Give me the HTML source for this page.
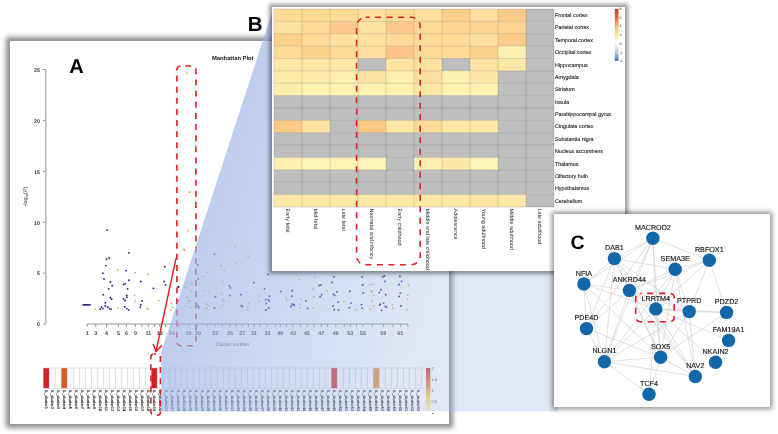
<!DOCTYPE html><html><head><meta charset="utf-8"><style>
html,body{margin:0;padding:0;background:#fff;}
body{width:778px;height:434px;overflow:hidden;position:relative;font-family:"Liberation Sans", sans-serif;}
.p{position:absolute;background:#fff;}
svg{position:absolute;left:0;top:0;overflow:visible;will-change:transform;}
text{font-family:"Liberation Sans", sans-serif;text-rendering:geometricPrecision;}
</style></head><body>
<div class="p" style="left:10px;top:41px;width:439.2px;height:383px;box-shadow:0 0 5px 4px rgba(0,0,0,0.45);"></div>
<svg width="778" height="434" viewBox="0 0 778 434">
<text x="69.3" y="73" font-size="20" font-weight="bold" fill="#000">A</text>
<text x="212" y="60" font-size="5.8" font-weight="bold" fill="#111">Manhattan Plot</text>
<g stroke="#8a8a8a" stroke-width="0.9" fill="none">
<line x1="45.9" y1="69.5" x2="45.9" y2="324"/>
<line x1="43" y1="324" x2="45.9" y2="324"/>
<line x1="43" y1="273.1" x2="45.9" y2="273.1"/>
<line x1="43" y1="222.2" x2="45.9" y2="222.2"/>
<line x1="43" y1="171.3" x2="45.9" y2="171.3"/>
<line x1="43" y1="120.4" x2="45.9" y2="120.4"/>
<line x1="43" y1="69.5" x2="45.9" y2="69.5"/>
</g>
<g font-size="5.3" font-weight="bold" fill="#3a3a3a" text-anchor="end">
<text x="40" y="326.3">0</text>
<text x="40" y="275.4">5</text>
<text x="40" y="224.5">10</text>
<text x="40" y="173.6">15</text>
<text x="40" y="122.7">20</text>
<text x="40" y="71.8">25</text>
</g>
<text transform="translate(26.7,196.7) rotate(-90)" font-size="5.4" fill="#333" text-anchor="middle">-log<tspan font-size="3.2" dy="1">10</tspan><tspan dy="-1">(</tspan><tspan font-style="italic">P</tspan>)</text>
<g stroke="#8a8a8a" stroke-width="0.9" fill="none">
<line x1="87.2" y1="324" x2="407.9" y2="324"/>
<line x1="87.2" y1="324" x2="87.2" y2="327"/>
<line x1="95.8" y1="324" x2="95.8" y2="327"/>
<line x1="106.5" y1="324" x2="106.5" y2="327"/>
<line x1="118.4" y1="324" x2="118.4" y2="327"/>
<line x1="126.4" y1="324" x2="126.4" y2="327"/>
<line x1="135.4" y1="324" x2="135.4" y2="327"/>
<line x1="141.8" y1="324" x2="141.8" y2="327"/>
<line x1="148.3" y1="324" x2="148.3" y2="327"/>
<line x1="154.4" y1="324" x2="154.4" y2="327"/>
<line x1="159.8" y1="324" x2="159.8" y2="327"/>
<line x1="165.6" y1="324" x2="165.6" y2="327"/>
<line x1="172" y1="324" x2="172" y2="327"/>
<line x1="179" y1="324" x2="179" y2="327"/>
<line x1="188.6" y1="324" x2="188.6" y2="327"/>
<line x1="197.6" y1="324" x2="197.6" y2="327"/>
<line x1="207.3" y1="324" x2="207.3" y2="327"/>
<line x1="215.2" y1="324" x2="215.2" y2="327"/>
<line x1="222.4" y1="324" x2="222.4" y2="327"/>
<line x1="229.8" y1="324" x2="229.8" y2="327"/>
<line x1="236.2" y1="324" x2="236.2" y2="327"/>
<line x1="242.2" y1="324" x2="242.2" y2="327"/>
<line x1="248.4" y1="324" x2="248.4" y2="327"/>
<line x1="254.2" y1="324" x2="254.2" y2="327"/>
<line x1="260" y1="324" x2="260" y2="327"/>
<line x1="267.1" y1="324" x2="267.1" y2="327"/>
<line x1="275.4" y1="324" x2="275.4" y2="327"/>
<line x1="280.3" y1="324" x2="280.3" y2="327"/>
<line x1="286.3" y1="324" x2="286.3" y2="327"/>
<line x1="292.8" y1="324" x2="292.8" y2="327"/>
<line x1="300.5" y1="324" x2="300.5" y2="327"/>
<line x1="307.3" y1="324" x2="307.3" y2="327"/>
<line x1="314.2" y1="324" x2="314.2" y2="327"/>
<line x1="321.4" y1="324" x2="321.4" y2="327"/>
<line x1="327.5" y1="324" x2="327.5" y2="327"/>
<line x1="335.8" y1="324" x2="335.8" y2="327"/>
<line x1="344.2" y1="324" x2="344.2" y2="327"/>
<line x1="350.4" y1="324" x2="350.4" y2="327"/>
<line x1="356.5" y1="324" x2="356.5" y2="327"/>
<line x1="362.8" y1="324" x2="362.8" y2="327"/>
<line x1="372.4" y1="324" x2="372.4" y2="327"/>
<line x1="383.4" y1="324" x2="383.4" y2="327"/>
<line x1="393" y1="324" x2="393" y2="327"/>
<line x1="400.7" y1="324" x2="400.7" y2="327"/>
<line x1="407.9" y1="324" x2="407.9" y2="327"/>
</g>
<g font-size="5.4" font-weight="bold" fill="#404040" text-anchor="middle">
<text x="87.2" y="335.1">1</text>
<text x="95.8" y="335.1">3</text>
<text x="106.5" y="335.1">4</text>
<text x="118.4" y="335.1">5</text>
<text x="126.4" y="335.1">6</text>
<text x="135.4" y="335.1">9</text>
<text x="148.3" y="335.1">11</text>
<text x="159.8" y="335.1">13</text>
<text x="172" y="335.1">16</text>
<text x="188.4" y="335.1">19</text>
<text x="198" y="335.1">20</text>
<text x="215.2" y="335.1">22</text>
<text x="229.9" y="335.1">25</text>
<text x="242.2" y="335.1">27</text>
<text x="254" y="335.1">31</text>
<text x="267.5" y="335.1">33</text>
<text x="280.2" y="335.1">40</text>
<text x="292.9" y="335.1">43</text>
<text x="307" y="335.1">45</text>
<text x="321.2" y="335.1">47</text>
<text x="335.8" y="335.1">49</text>
<text x="350.3" y="335.1">53</text>
<text x="362.9" y="335.1">55</text>
<text x="383.2" y="335.1">59</text>
<text x="400.2" y="335.1">61</text>
</g>
<text x="216" y="346.3" font-size="4.9" fill="#4a4a4a">Cluster number</text>
<g fill="#2c2c88">
<rect x="82.5" y="304" width="8.2" height="1.7"/>
<circle cx="107.1" cy="230.1" r="0.95"/>
<circle cx="106.6" cy="259.2" r="0.95"/>
<circle cx="109.1" cy="258" r="0.95"/>
<circle cx="105.8" cy="265.6" r="0.95"/>
<circle cx="102.8" cy="273.2" r="0.95"/>
<circle cx="104" cy="279" r="0.95"/>
<circle cx="110.4" cy="282" r="0.95"/>
<circle cx="112.2" cy="285.8" r="0.95"/>
<circle cx="108.6" cy="288.9" r="0.95"/>
<circle cx="103.3" cy="294.7" r="0.95"/>
<circle cx="110.4" cy="297.7" r="0.95"/>
<circle cx="111.6" cy="299.2" r="0.95"/>
<circle cx="105.3" cy="302.8" r="0.95"/>
<circle cx="101.5" cy="307.3" r="0.95"/>
<circle cx="102.8" cy="308.6" r="0.95"/>
<circle cx="100.3" cy="309.1" r="0.95"/>
<circle cx="105.3" cy="306" r="0.95"/>
<circle cx="107.8" cy="307.3" r="0.95"/>
<circle cx="109.6" cy="308.6" r="0.95"/>
<circle cx="111.1" cy="309.1" r="0.95"/>
<circle cx="128.9" cy="252.9" r="0.95"/>
<circle cx="126.1" cy="270.6" r="0.95"/>
<circle cx="128.9" cy="280.3" r="0.95"/>
<circle cx="125.1" cy="283.8" r="0.95"/>
<circle cx="123.5" cy="284.6" r="0.95"/>
<circle cx="127.6" cy="288.9" r="0.95"/>
<circle cx="126.8" cy="295.4" r="0.95"/>
<circle cx="126.8" cy="297.2" r="0.95"/>
<circle cx="123.5" cy="299" r="0.95"/>
<circle cx="125.1" cy="300.5" r="0.95"/>
<circle cx="124.8" cy="306.8" r="0.95"/>
<circle cx="126.8" cy="308.6" r="0.95"/>
<circle cx="128.6" cy="309.9" r="0.95"/>
<circle cx="140.8" cy="281.5" r="0.95"/>
<circle cx="142" cy="301" r="0.95"/>
<circle cx="140.8" cy="304.8" r="0.95"/>
<circle cx="140.3" cy="307.3" r="0.95"/>
<circle cx="153.4" cy="288.4" r="0.95"/>
<circle cx="164.8" cy="266.8" r="0.95"/>
<circle cx="164" cy="281.5" r="0.95"/>
<circle cx="165.6" cy="285" r="0.95"/>
<circle cx="178.2" cy="287" r="0.95"/>
<circle cx="214.4" cy="254.1" r="0.95"/>
<circle cx="197.8" cy="265" r="0.95"/>
<circle cx="198.2" cy="278.9" r="0.95"/>
<circle cx="178.7" cy="286.8" r="0.95"/>
<circle cx="229.3" cy="285.8" r="0.95"/>
<circle cx="230.5" cy="287.8" r="0.95"/>
<circle cx="215.4" cy="296.8" r="0.95"/>
<circle cx="229.9" cy="295.5" r="0.95"/>
<circle cx="240.9" cy="294.7" r="0.95"/>
<circle cx="253.8" cy="282.7" r="0.95"/>
<circle cx="267.8" cy="274.4" r="0.95"/>
<circle cx="264.5" cy="288.9" r="0.95"/>
<circle cx="269.7" cy="296.3" r="0.95"/>
<circle cx="265.6" cy="299.7" r="0.95"/>
<circle cx="268.3" cy="299.7" r="0.95"/>
<circle cx="269.3" cy="301.3" r="0.95"/>
<circle cx="266.2" cy="303.4" r="0.95"/>
<circle cx="268.7" cy="308" r="0.95"/>
<circle cx="265.8" cy="310" r="0.95"/>
<circle cx="280.7" cy="291.4" r="0.95"/>
<circle cx="292.1" cy="291" r="0.95"/>
<circle cx="292.1" cy="304.4" r="0.95"/>
<circle cx="291.1" cy="306.5" r="0.95"/>
<circle cx="294.2" cy="305.5" r="0.95"/>
<circle cx="241.3" cy="305.5" r="0.95"/>
<circle cx="242.4" cy="306.5" r="0.95"/>
<circle cx="214.4" cy="308" r="0.95"/>
<circle cx="197.8" cy="305.5" r="0.95"/>
<circle cx="198.8" cy="307.5" r="0.95"/>
<circle cx="178.1" cy="300.9" r="0.95"/>
<circle cx="333.8" cy="276.7" r="0.95"/>
<circle cx="332.1" cy="282.5" r="0.95"/>
<circle cx="319.2" cy="285.4" r="0.95"/>
<circle cx="320.9" cy="285" r="0.95"/>
<circle cx="292.5" cy="290.4" r="0.95"/>
<circle cx="292" cy="296.2" r="0.95"/>
<circle cx="292.5" cy="304.3" r="0.95"/>
<circle cx="294.2" cy="304.8" r="0.95"/>
<circle cx="305.9" cy="300.9" r="0.95"/>
<circle cx="307.5" cy="308.4" r="0.95"/>
<circle cx="320.1" cy="296.7" r="0.95"/>
<circle cx="321.7" cy="294.7" r="0.95"/>
<circle cx="333.4" cy="294.2" r="0.95"/>
<circle cx="334.8" cy="295.4" r="0.95"/>
<circle cx="336.8" cy="291.7" r="0.95"/>
<circle cx="338.1" cy="302.1" r="0.95"/>
<circle cx="333.1" cy="305.9" r="0.95"/>
<circle cx="334.3" cy="309.8" r="0.95"/>
<circle cx="338.5" cy="310.1" r="0.95"/>
<circle cx="349.8" cy="291.2" r="0.95"/>
<circle cx="351" cy="303.1" r="0.95"/>
<circle cx="349.3" cy="307.6" r="0.95"/>
<circle cx="362.2" cy="277" r="0.95"/>
<circle cx="362.7" cy="285" r="0.95"/>
<circle cx="363.2" cy="292.9" r="0.95"/>
<circle cx="361.5" cy="304.8" r="0.95"/>
<circle cx="362.2" cy="308.1" r="0.95"/>
<circle cx="382.7" cy="276.7" r="0.95"/>
<circle cx="384.4" cy="275.9" r="0.95"/>
<circle cx="384.9" cy="281.4" r="0.95"/>
<circle cx="381.1" cy="289.7" r="0.95"/>
<circle cx="379.4" cy="292.6" r="0.95"/>
<circle cx="385.7" cy="294.7" r="0.95"/>
<circle cx="380.2" cy="304.3" r="0.95"/>
<circle cx="379.7" cy="305.1" r="0.95"/>
<circle cx="383.6" cy="303.1" r="0.95"/>
<circle cx="385.2" cy="306.4" r="0.95"/>
<circle cx="386.6" cy="307.1" r="0.95"/>
<circle cx="381.6" cy="310.4" r="0.95"/>
<circle cx="399.9" cy="276.4" r="0.95"/>
<circle cx="401.6" cy="281.4" r="0.95"/>
<circle cx="398.9" cy="284.5" r="0.95"/>
<circle cx="400.3" cy="293.1" r="0.95"/>
<circle cx="399.1" cy="296.4" r="0.95"/>
<circle cx="401.1" cy="305.9" r="0.95"/>
<g fill="#dca236"><circle cx="187" cy="73.4" r="0.9"/><circle cx="189.5" cy="192.2" r="0.9"/><circle cx="188" cy="230.6" r="0.9"/><circle cx="184" cy="249.3" r="0.9"/></g>
</g><g fill="#c6b150">
<circle cx="95.2" cy="309.1" r="0.85"/>
<circle cx="117.5" cy="269.9" r="0.85"/>
<circle cx="118" cy="308" r="0.85"/>
<circle cx="135.2" cy="272.7" r="0.85"/>
<circle cx="134.4" cy="295.4" r="0.85"/>
<circle cx="135.2" cy="301" r="0.85"/>
<circle cx="147.8" cy="274.4" r="0.85"/>
<circle cx="147" cy="308.6" r="0.85"/>
<circle cx="148.4" cy="309.4" r="0.85"/>
<circle cx="159" cy="300.5" r="0.85"/>
<circle cx="171.6" cy="303.5" r="0.85"/>
<circle cx="172.4" cy="307.3" r="0.85"/>
<circle cx="170.6" cy="309.9" r="0.85"/>
<circle cx="235.8" cy="263.8" r="0.85"/>
<circle cx="248.5" cy="256.2" r="0.85"/>
<circle cx="220.6" cy="265.8" r="0.85"/>
<circle cx="184.3" cy="249.9" r="0.85"/>
<circle cx="235.1" cy="247" r="0.85"/>
<circle cx="248" cy="256.3" r="0.85"/>
<circle cx="221" cy="265.7" r="0.85"/>
<circle cx="224.3" cy="270.2" r="0.85"/>
<circle cx="207.1" cy="272.3" r="0.85"/>
<circle cx="204" cy="276.5" r="0.85"/>
<circle cx="222.7" cy="281.6" r="0.85"/>
<circle cx="186.4" cy="282.7" r="0.85"/>
<circle cx="191.6" cy="283.7" r="0.85"/>
<circle cx="184.3" cy="286.8" r="0.85"/>
<circle cx="186.4" cy="287.8" r="0.85"/>
<circle cx="191.2" cy="291.4" r="0.85"/>
<circle cx="205" cy="290.5" r="0.85"/>
<circle cx="208.6" cy="292" r="0.85"/>
<circle cx="221.6" cy="293.7" r="0.85"/>
<circle cx="187.4" cy="297.2" r="0.85"/>
<circle cx="188.5" cy="301.3" r="0.85"/>
<circle cx="190.1" cy="300.9" r="0.85"/>
<circle cx="222.7" cy="299.2" r="0.85"/>
<circle cx="223.7" cy="301.3" r="0.85"/>
<circle cx="205" cy="303" r="0.85"/>
<circle cx="207.1" cy="304.4" r="0.85"/>
<circle cx="209.2" cy="305.5" r="0.85"/>
<circle cx="222.7" cy="305" r="0.85"/>
<circle cx="184.3" cy="306.5" r="0.85"/>
<circle cx="189.5" cy="307.5" r="0.85"/>
<circle cx="191.6" cy="307.5" r="0.85"/>
<circle cx="205" cy="308.6" r="0.85"/>
<circle cx="207.1" cy="308.6" r="0.85"/>
<circle cx="220.6" cy="308" r="0.85"/>
<circle cx="248.6" cy="303.4" r="0.85"/>
<circle cx="247.5" cy="307.5" r="0.85"/>
<circle cx="248" cy="310" r="0.85"/>
<circle cx="259.6" cy="296.1" r="0.85"/>
<circle cx="258.9" cy="301.3" r="0.85"/>
<circle cx="285.9" cy="298.2" r="0.85"/>
<circle cx="286.9" cy="300.3" r="0.85"/>
<circle cx="299.2" cy="279.7" r="0.85"/>
<circle cx="314.7" cy="277" r="0.85"/>
<circle cx="313.1" cy="289.2" r="0.85"/>
<circle cx="313.7" cy="296.7" r="0.85"/>
<circle cx="300.9" cy="299.3" r="0.85"/>
<circle cx="300" cy="304.3" r="0.85"/>
<circle cx="300.4" cy="307.6" r="0.85"/>
<circle cx="313.1" cy="308.1" r="0.85"/>
<circle cx="327.1" cy="290.9" r="0.85"/>
<circle cx="343.8" cy="301.4" r="0.85"/>
<circle cx="356" cy="309.8" r="0.85"/>
<circle cx="369.9" cy="285" r="0.85"/>
<circle cx="372.7" cy="284.2" r="0.85"/>
<circle cx="371" cy="290.9" r="0.85"/>
<circle cx="372.2" cy="292.1" r="0.85"/>
<circle cx="373.5" cy="295.4" r="0.85"/>
<circle cx="371.9" cy="300.9" r="0.85"/>
<circle cx="373.5" cy="305.9" r="0.85"/>
<circle cx="370.5" cy="309.3" r="0.85"/>
<circle cx="392.3" cy="304.8" r="0.85"/>
<circle cx="392.8" cy="308.1" r="0.85"/>
<circle cx="408.6" cy="285.4" r="0.85"/>
<circle cx="407.8" cy="295.1" r="0.85"/>
<circle cx="407.5" cy="299.3" r="0.85"/>
<circle cx="407" cy="309.8" r="0.85"/>
</g>
<g stroke="#c8c8c8" stroke-width="0.5">
<rect x="43.2" y="368" width="6" height="20.2" fill="#d42128"/>
<rect x="49.2" y="368" width="6" height="20.2" fill="#fff"/>
<rect x="55.2" y="368" width="6" height="20.2" fill="#fff"/>
<rect x="61.2" y="368" width="6" height="20.2" fill="#dc5a1e"/>
<rect x="67.2" y="368" width="6" height="20.2" fill="#fff"/>
<rect x="73.2" y="368" width="6" height="20.2" fill="#fff"/>
<rect x="79.2" y="368" width="6" height="20.2" fill="#fff"/>
<rect x="85.2" y="368" width="6" height="20.2" fill="#fff"/>
<rect x="91.2" y="368" width="6" height="20.2" fill="#fff"/>
<rect x="97.2" y="368" width="6" height="20.2" fill="#fff"/>
<rect x="103.2" y="368" width="6" height="20.2" fill="#fff"/>
<rect x="109.2" y="368" width="6" height="20.2" fill="#fff"/>
<rect x="115.2" y="368" width="6" height="20.2" fill="#fff"/>
<rect x="121.2" y="368" width="6" height="20.2" fill="#fff"/>
<rect x="127.2" y="368" width="6" height="20.2" fill="#fff"/>
<rect x="133.2" y="368" width="6" height="20.2" fill="#fff"/>
<rect x="139.2" y="368" width="6" height="20.2" fill="#fff"/>
<rect x="145.2" y="368" width="6" height="20.2" fill="#fff"/>
<rect x="151.2" y="368" width="6" height="20.2" fill="#d81e20"/>
<rect x="157.2" y="368" width="6" height="20.2" fill="#fff"/>
<rect x="163.2" y="368" width="6" height="20.2" fill="#fff"/>
<rect x="169.2" y="368" width="6" height="20.2" fill="#fff"/>
<rect x="175.2" y="368" width="6" height="20.2" fill="#fff"/>
<rect x="181.2" y="368" width="6" height="20.2" fill="#fff"/>
<rect x="187.2" y="368" width="6" height="20.2" fill="#fff"/>
<rect x="193.2" y="368" width="6" height="20.2" fill="#fff"/>
<rect x="199.2" y="368" width="6" height="20.2" fill="#fff"/>
<rect x="205.2" y="368" width="6" height="20.2" fill="#fff"/>
<rect x="211.2" y="368" width="6" height="20.2" fill="#fff"/>
<rect x="217.2" y="368" width="6" height="20.2" fill="#fff"/>
<rect x="223.2" y="368" width="6" height="20.2" fill="#fff"/>
<rect x="229.2" y="368" width="6" height="20.2" fill="#fff"/>
<rect x="235.2" y="368" width="6" height="20.2" fill="#fff"/>
<rect x="241.2" y="368" width="6" height="20.2" fill="#fff"/>
<rect x="247.2" y="368" width="6" height="20.2" fill="#fff"/>
<rect x="253.2" y="368" width="6" height="20.2" fill="#fff"/>
<rect x="259.2" y="368" width="6" height="20.2" fill="#fff"/>
<rect x="265.2" y="368" width="6" height="20.2" fill="#fff"/>
<rect x="271.2" y="368" width="6" height="20.2" fill="#fff"/>
<rect x="277.2" y="368" width="6" height="20.2" fill="#fff"/>
<rect x="283.2" y="368" width="6" height="20.2" fill="#fff"/>
<rect x="289.2" y="368" width="6" height="20.2" fill="#fff"/>
<rect x="295.2" y="368" width="6" height="20.2" fill="#fff"/>
<rect x="301.2" y="368" width="6" height="20.2" fill="#fff"/>
<rect x="307.2" y="368" width="6" height="20.2" fill="#fff"/>
<rect x="313.2" y="368" width="6" height="20.2" fill="#fff"/>
<rect x="319.2" y="368" width="6" height="20.2" fill="#fff"/>
<rect x="325.2" y="368" width="6" height="20.2" fill="#fff"/>
<rect x="331.2" y="368" width="6" height="20.2" fill="#e0362d"/>
<rect x="337.2" y="368" width="6" height="20.2" fill="#fff"/>
<rect x="343.2" y="368" width="6" height="20.2" fill="#fff"/>
<rect x="349.2" y="368" width="6" height="20.2" fill="#fff"/>
<rect x="355.2" y="368" width="6" height="20.2" fill="#fff"/>
<rect x="361.2" y="368" width="6" height="20.2" fill="#fff"/>
<rect x="367.2" y="368" width="6" height="20.2" fill="#fff"/>
<rect x="373.2" y="368" width="6" height="20.2" fill="#f4933e"/>
<rect x="379.2" y="368" width="6" height="20.2" fill="#fff"/>
<rect x="385.2" y="368" width="6" height="20.2" fill="#fff"/>
<rect x="391.2" y="368" width="6" height="20.2" fill="#fff"/>
<rect x="397.2" y="368" width="6" height="20.2" fill="#fff"/>
<rect x="403.2" y="368" width="6" height="20.2" fill="#fff"/>
<rect x="409.2" y="368" width="6" height="20.2" fill="#fff"/>
<rect x="415.2" y="368" width="6" height="20.2" fill="#fff"/>
</g>
<g font-size="3.9" fill="#1a1a1a" stroke="#1a1a1a" stroke-width="0.12">
<text transform="translate(44.8,390) rotate(90)">IL_cluster1</text>
<text transform="translate(50.8,390) rotate(90)">IL_cluster2</text>
<text transform="translate(56.8,390) rotate(90)">IL_cluster3</text>
<text transform="translate(62.8,390) rotate(90)">IL_cluster4</text>
<text transform="translate(68.8,390) rotate(90)">IL_cluster5</text>
<text transform="translate(74.8,390) rotate(90)">IL_cluster6</text>
<text transform="translate(80.8,390) rotate(90)">IL_cluster7</text>
<text transform="translate(86.8,390) rotate(90)">IL_cluster8</text>
<text transform="translate(92.8,390) rotate(90)">IL_cluster9</text>
<text transform="translate(98.8,390) rotate(90)">IL_cluster10</text>
<text transform="translate(104.8,390) rotate(90)">IL_cluster11</text>
<text transform="translate(110.8,390) rotate(90)">IL_cluster12</text>
<text transform="translate(116.8,390) rotate(90)">IL_cluster13</text>
<text transform="translate(122.8,390) rotate(90)">IL_cluster14</text>
<text transform="translate(128.8,390) rotate(90)">IL_cluster15</text>
<text transform="translate(134.8,390) rotate(90)">IL_cluster16</text>
<text transform="translate(140.8,390) rotate(90)">IL_cluster17</text>
<text transform="translate(146.8,390) rotate(90)">IL_cluster18</text>
<text transform="translate(152.8,390) rotate(90)">IL_cluster19</text>
<text transform="translate(158.8,390) rotate(90)">IL_cluster20</text>
<text transform="translate(164.8,390) rotate(90)">IL_cluster21</text>
<text transform="translate(170.8,390) rotate(90)">IL_cluster22</text>
<text transform="translate(176.8,390) rotate(90)">IL_cluster23</text>
<text transform="translate(182.8,390) rotate(90)">IL_cluster24</text>
<text transform="translate(188.8,390) rotate(90)">IL_cluster25</text>
<text transform="translate(194.8,390) rotate(90)">IL_cluster26</text>
<text transform="translate(200.8,390) rotate(90)">IL_cluster27</text>
<text transform="translate(206.8,390) rotate(90)">IL_cluster28</text>
<text transform="translate(212.8,390) rotate(90)">IL_cluster29</text>
<text transform="translate(218.8,390) rotate(90)">IL_cluster30</text>
<text transform="translate(224.8,390) rotate(90)">IL_cluster31</text>
<text transform="translate(230.8,390) rotate(90)">IL_cluster32</text>
<text transform="translate(236.8,390) rotate(90)">IL_cluster33</text>
<text transform="translate(242.8,390) rotate(90)">IL_cluster34</text>
<text transform="translate(248.8,390) rotate(90)">IL_cluster35</text>
<text transform="translate(254.8,390) rotate(90)">IL_cluster36</text>
<text transform="translate(260.8,390) rotate(90)">IL_cluster37</text>
<text transform="translate(266.8,390) rotate(90)">IL_cluster38</text>
<text transform="translate(272.8,390) rotate(90)">IL_cluster39</text>
<text transform="translate(278.8,390) rotate(90)">IL_cluster40</text>
<text transform="translate(284.8,390) rotate(90)">IL_cluster41</text>
<text transform="translate(290.8,390) rotate(90)">IL_cluster42</text>
<text transform="translate(296.8,390) rotate(90)">IL_cluster43</text>
<text transform="translate(302.8,390) rotate(90)">IL_cluster44</text>
<text transform="translate(308.8,390) rotate(90)">IL_cluster45</text>
<text transform="translate(314.8,390) rotate(90)">IL_cluster46</text>
<text transform="translate(320.8,390) rotate(90)">IL_cluster47</text>
<text transform="translate(326.8,390) rotate(90)">IL_cluster48</text>
<text transform="translate(332.8,390) rotate(90)">IL_cluster49</text>
<text transform="translate(338.8,390) rotate(90)">IL_cluster50</text>
<text transform="translate(344.8,390) rotate(90)">IL_cluster51</text>
<text transform="translate(350.8,390) rotate(90)">IL_cluster52</text>
<text transform="translate(356.8,390) rotate(90)">IL_cluster53</text>
<text transform="translate(362.8,390) rotate(90)">IL_cluster54</text>
<text transform="translate(368.8,390) rotate(90)">IL_cluster55</text>
<text transform="translate(374.8,390) rotate(90)">IL_cluster56</text>
<text transform="translate(380.8,390) rotate(90)">IL_cluster57</text>
<text transform="translate(386.8,390) rotate(90)">IL_cluster58</text>
<text transform="translate(392.8,390) rotate(90)">IL_cluster59</text>
<text transform="translate(398.8,390) rotate(90)">IL_cluster60</text>
<text transform="translate(404.8,390) rotate(90)">IL_cluster61</text>
<text transform="translate(410.8,390) rotate(90)">IL_cluster62</text>
<text transform="translate(416.8,390) rotate(90)">IL_cluster63</text>
</g>
<defs><linearGradient id="lg2" x1="0" y1="0" x2="0" y2="1"><stop offset="0" stop-color="#da4046"/><stop offset="0.4" stop-color="#f09050"/><stop offset="0.72" stop-color="#ffe26c"/><stop offset="1" stop-color="#fffad0"/></linearGradient></defs>
<rect x="426" y="368" width="4.3" height="43" fill="url(#lg2)"/>
<g font-size="4.1" fill="#555">
<text x="431.6" y="370.1">2</text>
<text x="431.6" y="381.1">1.5</text>
<text x="431.6" y="391.9">1</text>
<text x="431.6" y="402.9">0.5</text>
</g>
<rect x="432" y="413" width="1.5" height="0.8" fill="#333"/>
<g fill="none" stroke="#e01f26" stroke-width="1.6" stroke-dasharray="6 5.1">
<rect x="176.9" y="66" width="19" height="279.8" rx="4" stroke-dashoffset="-4.3" stroke-dasharray="6 5.14"/>
<rect x="150.9" y="354" width="9.5" height="61.3" rx="3" stroke-dashoffset="4"/>
</g>
<g fill="none" stroke="#e8161b" stroke-width="1.4" stroke-linecap="round">
<line x1="175.9" y1="258.9" x2="156" y2="351.4"/>
<polyline points="153.4,344.5 156,351.4 161.6,345.8"/>
</g>
</svg>
<svg width="778" height="434" viewBox="0 0 778 434">
<defs><linearGradient id="wg" gradientUnits="userSpaceOnUse" x1="217.4" y1="180" x2="446.6" y2="254.7"><stop offset="0" stop-color="#a0b6e6" stop-opacity="0.68"/><stop offset="1" stop-color="#a0b6e6" stop-opacity="0.32"/></linearGradient></defs>
<polygon points="273.5,8 161.2,352 161.2,411.5 558,411.5 558,8" fill="url(#wg)"/>
</svg>
<svg width="778" height="434" viewBox="0 0 778 434"><text x="247.8" y="31" font-size="20.5" font-weight="bold" fill="#000">B</text></svg>
<div class="p" style="left:272px;top:7px;width:352.8px;height:264.4px;box-shadow:0 0 4px 3px rgba(0,0,0,0.40);"></div>
<svg width="778" height="434" viewBox="0 0 778 434">
<rect x="274" y="9" width="28" height="12.38" fill="#fddc96"/>
<rect x="302" y="9" width="28" height="12.38" fill="#fddc96"/>
<rect x="330" y="9" width="28" height="12.38" fill="#fddc96"/>
<rect x="358" y="9" width="28" height="12.38" fill="#fde0a0"/>
<rect x="386" y="9" width="28" height="12.38" fill="#fddc96"/>
<rect x="414" y="9" width="28" height="12.38" fill="#fde0a0"/>
<rect x="442" y="9" width="28" height="12.38" fill="#fdd08c"/>
<rect x="470" y="9" width="28" height="12.38" fill="#fde0a0"/>
<rect x="498" y="9" width="28" height="12.38" fill="#fdcc88"/>
<rect x="526" y="9" width="28" height="12.38" fill="#bebebe"/>
<rect x="274" y="21.38" width="28" height="12.38" fill="#fee3a0"/>
<rect x="302" y="21.38" width="28" height="12.38" fill="#fddb96"/>
<rect x="330" y="21.38" width="28" height="12.38" fill="#fdc888"/>
<rect x="358" y="21.38" width="28" height="12.38" fill="#fee3a0"/>
<rect x="386" y="21.38" width="28" height="12.38" fill="#fdc888"/>
<rect x="414" y="21.38" width="28" height="12.38" fill="#fddb96"/>
<rect x="442" y="21.38" width="28" height="12.38" fill="#fdd590"/>
<rect x="470" y="21.38" width="28" height="12.38" fill="#fdd590"/>
<rect x="498" y="21.38" width="28" height="12.38" fill="#fdd590"/>
<rect x="526" y="21.38" width="28" height="12.38" fill="#bebebe"/>
<rect x="274" y="33.75" width="28" height="12.38" fill="#fdd08c"/>
<rect x="302" y="33.75" width="28" height="12.38" fill="#fddb96"/>
<rect x="330" y="33.75" width="28" height="12.38" fill="#fee0a0"/>
<rect x="358" y="33.75" width="28" height="12.38" fill="#fee0a0"/>
<rect x="386" y="33.75" width="28" height="12.38" fill="#fddb96"/>
<rect x="414" y="33.75" width="28" height="12.38" fill="#fddb96"/>
<rect x="442" y="33.75" width="28" height="12.38" fill="#fddb96"/>
<rect x="470" y="33.75" width="28" height="12.38" fill="#fee3a0"/>
<rect x="498" y="33.75" width="28" height="12.38" fill="#fdcc88"/>
<rect x="526" y="33.75" width="28" height="12.38" fill="#bebebe"/>
<rect x="274" y="46.12" width="28" height="12.38" fill="#fddb96"/>
<rect x="302" y="46.12" width="28" height="12.38" fill="#fdd08c"/>
<rect x="330" y="46.12" width="28" height="12.38" fill="#fddb96"/>
<rect x="358" y="46.12" width="28" height="12.38" fill="#fee0a0"/>
<rect x="386" y="46.12" width="28" height="12.38" fill="#fdc585"/>
<rect x="414" y="46.12" width="28" height="12.38" fill="#fddb96"/>
<rect x="442" y="46.12" width="28" height="12.38" fill="#fddb96"/>
<rect x="470" y="46.12" width="28" height="12.38" fill="#fdd08c"/>
<rect x="498" y="46.12" width="28" height="12.38" fill="#fef0b0"/>
<rect x="526" y="46.12" width="28" height="12.38" fill="#bebebe"/>
<rect x="274" y="58.5" width="28" height="12.38" fill="#fee8a8"/>
<rect x="302" y="58.5" width="28" height="12.38" fill="#fee8a8"/>
<rect x="330" y="58.5" width="28" height="12.38" fill="#fee8a8"/>
<rect x="358" y="58.5" width="28" height="12.38" fill="#bebebe"/>
<rect x="386" y="58.5" width="28" height="12.38" fill="#fee4a2"/>
<rect x="414" y="58.5" width="28" height="12.38" fill="#fee0a0"/>
<rect x="442" y="58.5" width="28" height="12.38" fill="#bebebe"/>
<rect x="470" y="58.5" width="28" height="12.38" fill="#fee4a2"/>
<rect x="498" y="58.5" width="28" height="12.38" fill="#fee8a8"/>
<rect x="526" y="58.5" width="28" height="12.38" fill="#bebebe"/>
<rect x="274" y="70.88" width="28" height="12.38" fill="#feeaa9"/>
<rect x="302" y="70.88" width="28" height="12.38" fill="#feeaa9"/>
<rect x="330" y="70.88" width="28" height="12.38" fill="#feefb0"/>
<rect x="358" y="70.88" width="28" height="12.38" fill="#fee4a2"/>
<rect x="386" y="70.88" width="28" height="12.38" fill="#feefb0"/>
<rect x="414" y="70.88" width="28" height="12.38" fill="#fee0a0"/>
<rect x="442" y="70.88" width="28" height="12.38" fill="#fef0b0"/>
<rect x="470" y="70.88" width="28" height="12.38" fill="#fee8a8"/>
<rect x="498" y="70.88" width="28" height="12.38" fill="#bebebe"/>
<rect x="526" y="70.88" width="28" height="12.38" fill="#bebebe"/>
<rect x="274" y="83.25" width="28" height="12.38" fill="#feeeac"/>
<rect x="302" y="83.25" width="28" height="12.38" fill="#fef2b3"/>
<rect x="330" y="83.25" width="28" height="12.38" fill="#fef2b3"/>
<rect x="358" y="83.25" width="28" height="12.38" fill="#fef2b3"/>
<rect x="386" y="83.25" width="28" height="12.38" fill="#fef0b0"/>
<rect x="414" y="83.25" width="28" height="12.38" fill="#fee8a8"/>
<rect x="442" y="83.25" width="28" height="12.38" fill="#fef2b3"/>
<rect x="470" y="83.25" width="28" height="12.38" fill="#fef2b3"/>
<rect x="498" y="83.25" width="28" height="12.38" fill="#bebebe"/>
<rect x="526" y="83.25" width="28" height="12.38" fill="#bebebe"/>
<rect x="274" y="95.62" width="28" height="12.38" fill="#bebebe"/>
<rect x="302" y="95.62" width="28" height="12.38" fill="#bebebe"/>
<rect x="330" y="95.62" width="28" height="12.38" fill="#bebebe"/>
<rect x="358" y="95.62" width="28" height="12.38" fill="#bebebe"/>
<rect x="386" y="95.62" width="28" height="12.38" fill="#bebebe"/>
<rect x="414" y="95.62" width="28" height="12.38" fill="#bebebe"/>
<rect x="442" y="95.62" width="28" height="12.38" fill="#bebebe"/>
<rect x="470" y="95.62" width="28" height="12.38" fill="#bebebe"/>
<rect x="498" y="95.62" width="28" height="12.38" fill="#bebebe"/>
<rect x="526" y="95.62" width="28" height="12.38" fill="#bebebe"/>
<rect x="274" y="108" width="28" height="12.38" fill="#bebebe"/>
<rect x="302" y="108" width="28" height="12.38" fill="#bebebe"/>
<rect x="330" y="108" width="28" height="12.38" fill="#bebebe"/>
<rect x="358" y="108" width="28" height="12.38" fill="#bebebe"/>
<rect x="386" y="108" width="28" height="12.38" fill="#bebebe"/>
<rect x="414" y="108" width="28" height="12.38" fill="#bebebe"/>
<rect x="442" y="108" width="28" height="12.38" fill="#bebebe"/>
<rect x="470" y="108" width="28" height="12.38" fill="#bebebe"/>
<rect x="498" y="108" width="28" height="12.38" fill="#bebebe"/>
<rect x="526" y="108" width="28" height="12.38" fill="#bebebe"/>
<rect x="274" y="120.38" width="28" height="12.38" fill="#fdc987"/>
<rect x="302" y="120.38" width="28" height="12.38" fill="#fee0a0"/>
<rect x="330" y="120.38" width="28" height="12.38" fill="#bebebe"/>
<rect x="358" y="120.38" width="28" height="12.38" fill="#fdc987"/>
<rect x="386" y="120.38" width="28" height="12.38" fill="#fee8a8"/>
<rect x="414" y="120.38" width="28" height="12.38" fill="#fedb95"/>
<rect x="442" y="120.38" width="28" height="12.38" fill="#fee8a8"/>
<rect x="470" y="120.38" width="28" height="12.38" fill="#fee8a8"/>
<rect x="498" y="120.38" width="28" height="12.38" fill="#bebebe"/>
<rect x="526" y="120.38" width="28" height="12.38" fill="#bebebe"/>
<rect x="274" y="132.75" width="28" height="12.38" fill="#bebebe"/>
<rect x="302" y="132.75" width="28" height="12.38" fill="#bebebe"/>
<rect x="330" y="132.75" width="28" height="12.38" fill="#bebebe"/>
<rect x="358" y="132.75" width="28" height="12.38" fill="#bebebe"/>
<rect x="386" y="132.75" width="28" height="12.38" fill="#bebebe"/>
<rect x="414" y="132.75" width="28" height="12.38" fill="#bebebe"/>
<rect x="442" y="132.75" width="28" height="12.38" fill="#bebebe"/>
<rect x="470" y="132.75" width="28" height="12.38" fill="#bebebe"/>
<rect x="498" y="132.75" width="28" height="12.38" fill="#bebebe"/>
<rect x="526" y="132.75" width="28" height="12.38" fill="#bebebe"/>
<rect x="274" y="145.12" width="28" height="12.38" fill="#bebebe"/>
<rect x="302" y="145.12" width="28" height="12.38" fill="#bebebe"/>
<rect x="330" y="145.12" width="28" height="12.38" fill="#bebebe"/>
<rect x="358" y="145.12" width="28" height="12.38" fill="#bebebe"/>
<rect x="386" y="145.12" width="28" height="12.38" fill="#bebebe"/>
<rect x="414" y="145.12" width="28" height="12.38" fill="#bebebe"/>
<rect x="442" y="145.12" width="28" height="12.38" fill="#bebebe"/>
<rect x="470" y="145.12" width="28" height="12.38" fill="#bebebe"/>
<rect x="498" y="145.12" width="28" height="12.38" fill="#bebebe"/>
<rect x="526" y="145.12" width="28" height="12.38" fill="#bebebe"/>
<rect x="274" y="157.5" width="28" height="12.38" fill="#fef0b0"/>
<rect x="302" y="157.5" width="28" height="12.38" fill="#fef4b8"/>
<rect x="330" y="157.5" width="28" height="12.38" fill="#fef2b3"/>
<rect x="358" y="157.5" width="28" height="12.38" fill="#fef4b8"/>
<rect x="386" y="157.5" width="28" height="12.38" fill="#bebebe"/>
<rect x="414" y="157.5" width="28" height="12.38" fill="#fef0b0"/>
<rect x="442" y="157.5" width="28" height="12.38" fill="#fee8a8"/>
<rect x="470" y="157.5" width="28" height="12.38" fill="#fef4b8"/>
<rect x="498" y="157.5" width="28" height="12.38" fill="#bebebe"/>
<rect x="526" y="157.5" width="28" height="12.38" fill="#bebebe"/>
<rect x="274" y="169.88" width="28" height="12.38" fill="#bebebe"/>
<rect x="302" y="169.88" width="28" height="12.38" fill="#bebebe"/>
<rect x="330" y="169.88" width="28" height="12.38" fill="#bebebe"/>
<rect x="358" y="169.88" width="28" height="12.38" fill="#bebebe"/>
<rect x="386" y="169.88" width="28" height="12.38" fill="#bebebe"/>
<rect x="414" y="169.88" width="28" height="12.38" fill="#bebebe"/>
<rect x="442" y="169.88" width="28" height="12.38" fill="#bebebe"/>
<rect x="470" y="169.88" width="28" height="12.38" fill="#bebebe"/>
<rect x="498" y="169.88" width="28" height="12.38" fill="#bebebe"/>
<rect x="526" y="169.88" width="28" height="12.38" fill="#bebebe"/>
<rect x="274" y="182.25" width="28" height="12.38" fill="#bebebe"/>
<rect x="302" y="182.25" width="28" height="12.38" fill="#bebebe"/>
<rect x="330" y="182.25" width="28" height="12.38" fill="#bebebe"/>
<rect x="358" y="182.25" width="28" height="12.38" fill="#bebebe"/>
<rect x="386" y="182.25" width="28" height="12.38" fill="#bebebe"/>
<rect x="414" y="182.25" width="28" height="12.38" fill="#bebebe"/>
<rect x="442" y="182.25" width="28" height="12.38" fill="#bebebe"/>
<rect x="470" y="182.25" width="28" height="12.38" fill="#bebebe"/>
<rect x="498" y="182.25" width="28" height="12.38" fill="#bebebe"/>
<rect x="526" y="182.25" width="28" height="12.38" fill="#bebebe"/>
<rect x="274" y="194.62" width="28" height="12.38" fill="#fee8a8"/>
<rect x="302" y="194.62" width="28" height="12.38" fill="#fee8a8"/>
<rect x="330" y="194.62" width="28" height="12.38" fill="#fee8a8"/>
<rect x="358" y="194.62" width="28" height="12.38" fill="#fee8a8"/>
<rect x="386" y="194.62" width="28" height="12.38" fill="#fee8a8"/>
<rect x="414" y="194.62" width="28" height="12.38" fill="#fee8a8"/>
<rect x="442" y="194.62" width="28" height="12.38" fill="#fee8a8"/>
<rect x="470" y="194.62" width="28" height="12.38" fill="#fee4a2"/>
<rect x="498" y="194.62" width="28" height="12.38" fill="#fee8a8"/>
<rect x="526" y="194.62" width="28" height="12.38" fill="#bebebe"/>
<g stroke="#000" stroke-opacity="0.18" stroke-width="0.7">
<line x1="274" y1="9" x2="274" y2="207"/>
<line x1="302" y1="9" x2="302" y2="207"/>
<line x1="330" y1="9" x2="330" y2="207"/>
<line x1="358" y1="9" x2="358" y2="207"/>
<line x1="386" y1="9" x2="386" y2="207"/>
<line x1="414" y1="9" x2="414" y2="207"/>
<line x1="442" y1="9" x2="442" y2="207"/>
<line x1="470" y1="9" x2="470" y2="207"/>
<line x1="498" y1="9" x2="498" y2="207"/>
<line x1="526" y1="9" x2="526" y2="207"/>
<line x1="554" y1="9" x2="554" y2="207"/>
<line x1="274" y1="9" x2="554" y2="9"/>
<line x1="274" y1="21.38" x2="554" y2="21.38"/>
<line x1="274" y1="33.75" x2="554" y2="33.75"/>
<line x1="274" y1="46.12" x2="554" y2="46.12"/>
<line x1="274" y1="58.5" x2="554" y2="58.5"/>
<line x1="274" y1="70.88" x2="554" y2="70.88"/>
<line x1="274" y1="83.25" x2="554" y2="83.25"/>
<line x1="274" y1="95.62" x2="554" y2="95.62"/>
<line x1="274" y1="108" x2="554" y2="108"/>
<line x1="274" y1="120.38" x2="554" y2="120.38"/>
<line x1="274" y1="132.75" x2="554" y2="132.75"/>
<line x1="274" y1="145.12" x2="554" y2="145.12"/>
<line x1="274" y1="157.5" x2="554" y2="157.5"/>
<line x1="274" y1="169.88" x2="554" y2="169.88"/>
<line x1="274" y1="182.25" x2="554" y2="182.25"/>
<line x1="274" y1="194.62" x2="554" y2="194.62"/>
<line x1="274" y1="207" x2="554" y2="207"/>
</g>
<g font-size="5.35" fill="#111" stroke="#111" stroke-width="0.1">
<text x="554.9" y="17.1">Frontal cortex</text>
<text x="554.9" y="29.48">Parietal cortex</text>
<text x="554.9" y="41.85">Temporal cortex</text>
<text x="554.9" y="54.23">Occipital cortex</text>
<text x="554.9" y="66.6">Hippocampus</text>
<text x="554.9" y="78.97">Amygdala</text>
<text x="554.9" y="91.35">Striatum</text>
<text x="554.9" y="103.72">Insula</text>
<text x="554.9" y="116.1">Parahippocampal gyrus</text>
<text x="554.9" y="128.47">Cingulate cortex</text>
<text x="554.9" y="140.85">Substantia nigra</text>
<text x="554.9" y="153.22">Nucleus accumbens</text>
<text x="554.9" y="165.6">Thalamus</text>
<text x="554.9" y="177.97">Olfactory bulb</text>
<text x="554.9" y="190.35">Hypothalamus</text>
<text x="554.9" y="202.72">Cerebellum</text>
</g>
<g font-size="5.4" fill="#2a2a2a">
<text transform="translate(286.1,208.6) rotate(90)">Early fetal</text>
<text transform="translate(314.1,208.6) rotate(90)">Mid-fetal</text>
<text transform="translate(342.1,208.6) rotate(90)">Late fetal</text>
<text transform="translate(370.1,208.6) rotate(90)">Neonatal and infancy</text>
<text transform="translate(398.1,208.6) rotate(90)">Early childhood</text>
<text transform="translate(426.1,208.6) rotate(90)">Middle and late childhood</text>
<text transform="translate(454.1,208.6) rotate(90)">Adolescence</text>
<text transform="translate(482.1,208.6) rotate(90)">Young adulthood</text>
<text transform="translate(510.1,208.6) rotate(90)">Middle adulthood</text>
<text transform="translate(538.1,208.6) rotate(90)">Late adulthood</text>
</g>
<defs><linearGradient id="lg1" x1="0" y1="0" x2="0" y2="1"><stop offset="0" stop-color="#c8302a"/><stop offset="0.17" stop-color="#e46c44"/><stop offset="0.33" stop-color="#f8b476"/><stop offset="0.5" stop-color="#fde8a0"/><stop offset="0.62" stop-color="#fdfbea"/><stop offset="0.7" stop-color="#eef4f8"/><stop offset="0.85" stop-color="#a9c8e2"/><stop offset="1" stop-color="#4272b0"/></linearGradient></defs>
<rect x="614.8" y="8.9" width="3.7" height="52.1" fill="url(#lg1)"/>
<g font-size="3.6" fill="#222">
<text x="619.4" y="10.1">8</text>
<text x="619.4" y="18.78">6</text>
<text x="619.4" y="27.47">4</text>
<text x="619.4" y="36.15">2</text>
<text x="619.4" y="44.83">0</text>
<text x="619.4" y="53.52">-2</text>
<text x="619.4" y="62.2">-4</text>
</g>
<g fill="none" stroke="#e01f26" stroke-width="1.6" stroke-dasharray="6 5.5">
<rect x="356.6" y="17.3" width="63.6" height="247.5" rx="9" stroke-dashoffset="2"/>
</g>
</svg>
<div class="p" style="left:554.3px;top:213.8px;width:216.1px;height:193px;box-shadow:0 0 5px 2px rgba(0,0,0,0.45);"></div>
<svg width="778" height="434" viewBox="0 0 778 434">
<text x="570.6" y="249.2" font-size="19.5" font-weight="bold" fill="#000">C</text>
<g stroke="#cbcbcb" stroke-width="0.6">
<line x1="652.9" y1="238.3" x2="614.4" y2="258.6"/>
<line x1="652.9" y1="238.3" x2="709.3" y2="260.3"/>
<line x1="652.9" y1="238.3" x2="629.4" y2="290.4"/>
<line x1="652.9" y1="238.3" x2="655.8" y2="308.9"/>
<line x1="652.9" y1="238.3" x2="586.5" y2="328.6"/>
<line x1="652.9" y1="238.3" x2="604.4" y2="361.7"/>
<line x1="652.9" y1="238.3" x2="660.6" y2="357.2"/>
<line x1="652.9" y1="238.3" x2="583.9" y2="284"/>
<line x1="614.4" y1="258.6" x2="583.9" y2="284"/>
<line x1="614.4" y1="258.6" x2="629.4" y2="290.4"/>
<line x1="614.4" y1="258.6" x2="675.2" y2="269.2"/>
<line x1="614.4" y1="258.6" x2="655.8" y2="308.9"/>
<line x1="614.4" y1="258.6" x2="660.6" y2="357.2"/>
<line x1="614.4" y1="258.6" x2="604.4" y2="361.7"/>
<line x1="614.4" y1="258.6" x2="586.5" y2="328.6"/>
<line x1="614.4" y1="258.6" x2="689.2" y2="311.6"/>
<line x1="614.4" y1="258.6" x2="695.3" y2="376.5"/>
<line x1="709.3" y1="260.3" x2="675.2" y2="269.2"/>
<line x1="709.3" y1="260.3" x2="689.2" y2="311.6"/>
<line x1="709.3" y1="260.3" x2="655.8" y2="308.9"/>
<line x1="709.3" y1="260.3" x2="726.6" y2="312.4"/>
<line x1="709.3" y1="260.3" x2="629.4" y2="290.4"/>
<line x1="675.2" y1="269.2" x2="629.4" y2="290.4"/>
<line x1="675.2" y1="269.2" x2="655.8" y2="308.9"/>
<line x1="675.2" y1="269.2" x2="689.2" y2="311.6"/>
<line x1="675.2" y1="269.2" x2="660.6" y2="357.2"/>
<line x1="675.2" y1="269.2" x2="695.3" y2="376.5"/>
<line x1="675.2" y1="269.2" x2="604.4" y2="361.7"/>
<line x1="583.9" y1="284" x2="629.4" y2="290.4"/>
<line x1="583.9" y1="284" x2="586.5" y2="328.6"/>
<line x1="583.9" y1="284" x2="604.4" y2="361.7"/>
<line x1="583.9" y1="284" x2="655.8" y2="308.9"/>
<line x1="583.9" y1="284" x2="660.6" y2="357.2"/>
<line x1="629.4" y1="290.4" x2="655.8" y2="308.9"/>
<line x1="629.4" y1="290.4" x2="689.2" y2="311.6"/>
<line x1="629.4" y1="290.4" x2="660.6" y2="357.2"/>
<line x1="629.4" y1="290.4" x2="604.4" y2="361.7"/>
<line x1="629.4" y1="290.4" x2="586.5" y2="328.6"/>
<line x1="629.4" y1="290.4" x2="695.3" y2="376.5"/>
<line x1="655.8" y1="308.9" x2="689.2" y2="311.6"/>
<line x1="655.8" y1="308.9" x2="726.6" y2="312.4"/>
<line x1="655.8" y1="308.9" x2="660.6" y2="357.2"/>
<line x1="655.8" y1="308.9" x2="695.3" y2="376.5"/>
<line x1="655.8" y1="308.9" x2="604.4" y2="361.7"/>
<line x1="655.8" y1="308.9" x2="649" y2="394.2"/>
<line x1="655.8" y1="308.9" x2="728.6" y2="340.4"/>
<line x1="655.8" y1="308.9" x2="715.6" y2="362.3"/>
<line x1="689.2" y1="311.6" x2="726.6" y2="312.4"/>
<line x1="689.2" y1="311.6" x2="695.3" y2="376.5"/>
<line x1="689.2" y1="311.6" x2="660.6" y2="357.2"/>
<line x1="689.2" y1="311.6" x2="604.4" y2="361.7"/>
<line x1="586.5" y1="328.6" x2="660.6" y2="357.2"/>
<line x1="586.5" y1="328.6" x2="604.4" y2="361.7"/>
<line x1="604.4" y1="361.7" x2="660.6" y2="357.2"/>
<line x1="604.4" y1="361.7" x2="695.3" y2="376.5"/>
<line x1="604.4" y1="361.7" x2="649" y2="394.2"/>
<line x1="660.6" y1="357.2" x2="649" y2="394.2"/>
<line x1="660.6" y1="357.2" x2="695.3" y2="376.5"/>
<line x1="660.6" y1="357.2" x2="726.6" y2="312.4"/>
</g>
<g fill="#1167a8">
<circle cx="652.9" cy="238.3" r="6.7"/>
<circle cx="614.4" cy="258.6" r="6.7"/>
<circle cx="709.3" cy="260.3" r="6.7"/>
<circle cx="675.2" cy="269.2" r="6.7"/>
<circle cx="583.9" cy="284" r="6.7"/>
<circle cx="629.4" cy="290.4" r="6.7"/>
<circle cx="655.8" cy="308.9" r="6.7"/>
<circle cx="689.2" cy="311.6" r="6.7"/>
<circle cx="726.6" cy="312.4" r="6.7"/>
<circle cx="586.5" cy="328.6" r="6.7"/>
<circle cx="728.6" cy="340.4" r="6.7"/>
<circle cx="604.4" cy="361.7" r="6.7"/>
<circle cx="660.6" cy="357.2" r="6.7"/>
<circle cx="715.6" cy="362.3" r="6.7"/>
<circle cx="695.3" cy="376.5" r="6.7"/>
<circle cx="649" cy="394.2" r="6.7"/>
</g>
<g font-size="7.2" fill="#1a1a1a" stroke="#1a1a1a" stroke-width="0.15" text-anchor="middle">
<text x="652.9" y="229.9">MACROD2</text>
<text x="614.4" y="250.2">DAB1</text>
<text x="709.3" y="251.9">RBFOX1</text>
<text x="675.2" y="260.8">SEMA3E</text>
<text x="583.9" y="275.6">NFIA</text>
<text x="629.4" y="282">ANKRD44</text>
<text x="655.8" y="300.5">LRRTM4</text>
<text x="689.2" y="303.2">PTPRD</text>
<text x="726.6" y="304">PDZD2</text>
<text x="586.5" y="320.2">PDE4D</text>
<text x="728.6" y="332">FAM19A1</text>
<text x="604.4" y="353.3">NLGN1</text>
<text x="660.6" y="348.8">SOX5</text>
<text x="715.6" y="353.9">NKAIN2</text>
<text x="695.3" y="368.1">NAV2</text>
<text x="649" y="385.8">TCF4</text>
</g>
<rect x="635.7" y="293.4" width="38.5" height="28.3" rx="4.5" fill="none" stroke="#e01f26" stroke-width="1.6" stroke-dasharray="6.3 5.6" stroke-dashoffset="-6.9"/>
</svg>
</body></html>
